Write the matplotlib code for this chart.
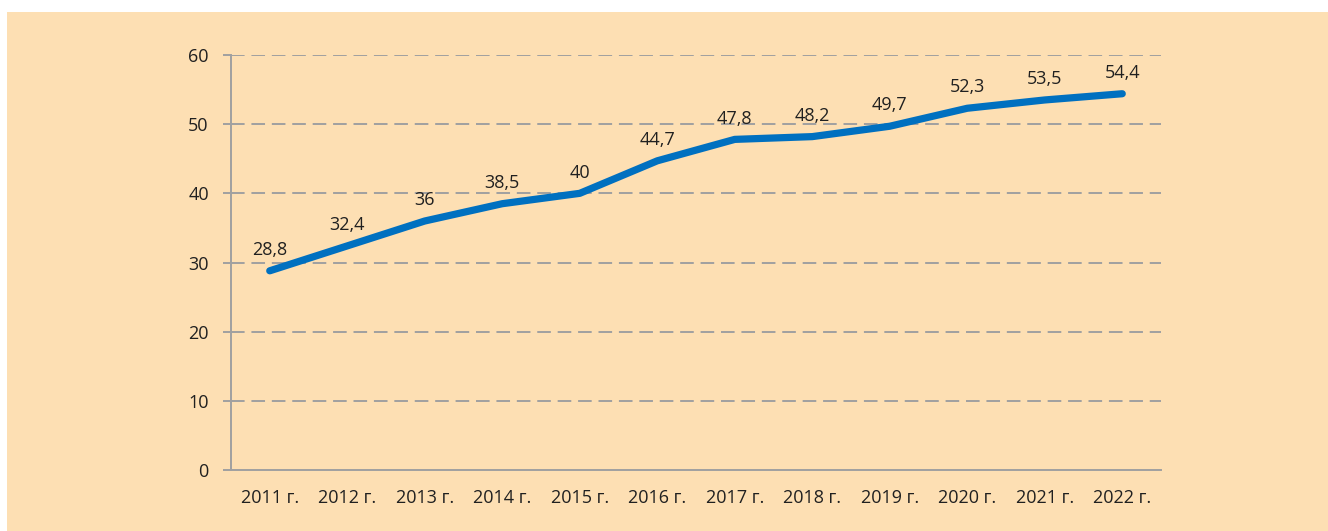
import matplotlib
matplotlib.use("Agg")
import matplotlib.pyplot as plt
from matplotlib.patches import Rectangle

years = ["2011 г.", "2012 г.", "2013 г.", "2014 г.", "2015 г.", "2016 г.",
         "2017 г.", "2018 г.", "2019 г.", "2020 г.", "2021 г.", "2022 г."]
values = [28.8, 32.4, 36, 38.5, 40, 44.7, 47.8, 48.2, 49.7, 52.3, 53.5, 54.4]
value_labels = ["28,8", "32,4", "36", "38,5", "40", "44,7",
                "47,8", "48,2", "49,7", "52,3", "53,5", "54,4"]
yticks = [0, 10, 20, 30, 40, 50, 60]

plt.rcParams['font.family'] = ['Open Sans', 'DejaVu Sans']

W, H = 1328, 531
fig = plt.figure(figsize=(W / 100, H / 100), dpi=100, facecolor="white")
bg = "#FDDFB3"
fig.patches.append(Rectangle((7 / W, 0), 1 - 7 / W, (H - 12) / H,
                             transform=fig.transFigure, facecolor=bg,
                             edgecolor="none", zorder=-10))

ax = fig.add_axes([231 / W, (H - 470) / H, (1161 - 231) / W, (470 - 55) / H])
ax.set_facecolor("none")
ax.set_zorder(1)

x = list(range(len(years)))
ax.plot(x, values, color="#0070C0", lw=5.2, solid_capstyle="round",
        solid_joinstyle="round", zorder=3)

fs = 13
for xi, v, lab in zip(x, values, value_labels):
    ax.annotate(lab, (xi, v), xytext=(0, 15), textcoords="offset points",
                ha="center", va="center", fontsize=fs, color="#202020")

ax.set_xlim(-0.5, len(years) - 0.5)
ax.set_ylim(0, 60)
ax.set_yticks(yticks)
ax.set_yticklabels([str(t) for t in yticks])
ax.set_xticks(x)
ax.set_xticklabels(years)

gray = "#A0A0A0"
for t in yticks[1:]:
    ax.axhline(t, color=gray, lw=1.4, ls=(0, (7, 3.5)), zorder=1)

for s in ["top", "right"]:
    ax.spines[s].set_visible(False)
for s in ["left", "bottom"]:
    ax.spines[s].set_color(gray)
    ax.spines[s].set_linewidth(1.4)

ax.tick_params(axis="y", length=6, width=1.4, color=gray, pad=10,
               labelsize=fs, labelcolor="#202020")
ax.tick_params(axis="x", length=0, pad=14, labelsize=fs, labelcolor="#202020")

fig.savefig("out.png", dpi=100, facecolor="white")
